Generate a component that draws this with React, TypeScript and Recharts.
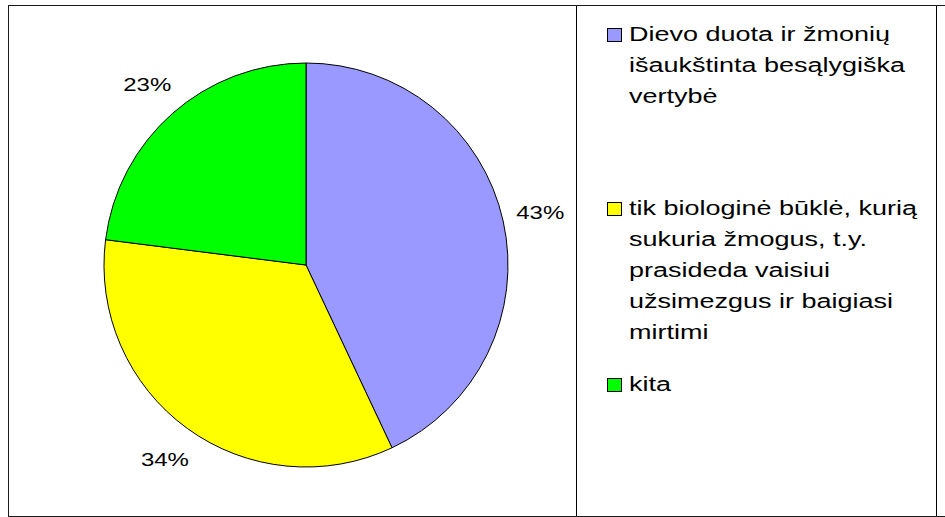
import React from "react";
import { PieChart, Pie, Cell, Legend } from "recharts";

const CATEGORIES = [
  "Dievo duota ir žmonių išaukštinta besąlygiška vertybė",
  "tik biologinė būklė, kurią sukuria žmogus, t.y. prasideda vaisiui užsimezgus ir baigiasi mirtimi",
  "kita",
];
const VALUES = [43, 34, 23];
const COLORS = ["#9999ff", "#ffff00", "#00ff00"];

const FONT = "'Liberation Sans', Arial, sans-serif";
const SQUASH = 0.73; // text in the original is stretched wide

const data = CATEGORIES.map((name, i) => ({ name, value: VALUES[i] }));

// word wrap with canvas metrics
function wrap(text: string, maxW: number, font: string): string[] {
  const ctx = document.createElement("canvas").getContext("2d");
  const measure = (s: string) => {
    if (!ctx) return s.length * 13;
    ctx.font = font;
    return ctx.measureText(s).width;
  };
  const words = text.split(" ");
  const lines: string[] = [];
  let cur = "";
  for (const w of words) {
    const next = cur ? cur + " " + w : w;
    if (cur && measure(next) > maxW) {
      lines.push(cur);
      cur = w;
    } else cur = next;
  }
  if (cur) lines.push(cur);
  return lines;
}

const RADIAN = Math.PI / 180;

function renderLabel(props: any) {
  const { cx, cy, midAngle, outerRadius, percent } = props;
  const r = outerRadius + 38;
  const x = cx + r * Math.cos(-midAngle * RADIAN);
  const y = cy + r * Math.sin(-midAngle * RADIAN);
  return (
    <text
      transform={`translate(${x},${y + 6.5}) scale(1,${SQUASH})`}
      textAnchor="middle"
      fontFamily={FONT}
      fontSize={24}
      fill="#000"
    >
      {`${Math.round(percent * 100)}%`}
    </text>
  );
}

const LEGEND_TOPS = [41, 215, 391];
const LINE_H = 31;

function LegendBox() {
  const font = `27px ${FONT}`;
  return (
    <svg width={340} height={517} style={{ display: "block" }}>
      {data.map((d, i) => {
        const lines = wrap(d.name, 305, font);
        const base = LEGEND_TOPS[i];
        return (
          <g key={d.name}>
            <rect x={1.5} y={base - 12.5} width={14} height={13} fill={COLORS[i]} stroke="#000" strokeWidth={1} />
            {lines.map((ln, j) => (
              <text
                key={j}
                transform={`translate(23,${base + j * LINE_H}) scale(1,${SQUASH})`}
                fontFamily={FONT}
                fontSize={27}
                fill="#000"
              >
                {ln}
              </text>
            ))}
          </g>
        );
      })}
    </svg>
  );
}

export default function App() {
  return (
    <div style={{ position: "absolute", left: 0, top: 0, width: 945, height: 517, overflow: "hidden", background: "#fff" }}>
      <div style={{ position: "absolute", left: 8, top: 5, width: 960, height: 510, border: "1.5px solid #1a1a1a" }} />
      <div style={{ position: "absolute", left: 576, top: 6, width: 359, height: 510, borderLeft: "1px solid #000", borderRight: "1px solid #000" }} />
      <div style={{ position: "absolute", left: 0, top: 0 }}>
        <PieChart width={945} height={517} margin={{ top: 0, right: 0, bottom: 0, left: 0 }}>
          <Pie
            data={data}
            dataKey="value"
            nameKey="name"
            cx={306}
            cy={265}
            outerRadius={202}
            startAngle={90}
            endAngle={-270}
            stroke="#000"
            strokeWidth={1}
            label={renderLabel}
            labelLine={false}
            isAnimationActive={false}
          >
            {data.map((d, i) => (
              <Cell key={d.name} fill={COLORS[i]} />
            ))}
          </Pie>
          <Legend
            content={() => <LegendBox />}
            wrapperStyle={{ position: "absolute", left: 606, top: 0, width: 340, height: 517 }}
          />
        </PieChart>
      </div>
    </div>
  );
}
